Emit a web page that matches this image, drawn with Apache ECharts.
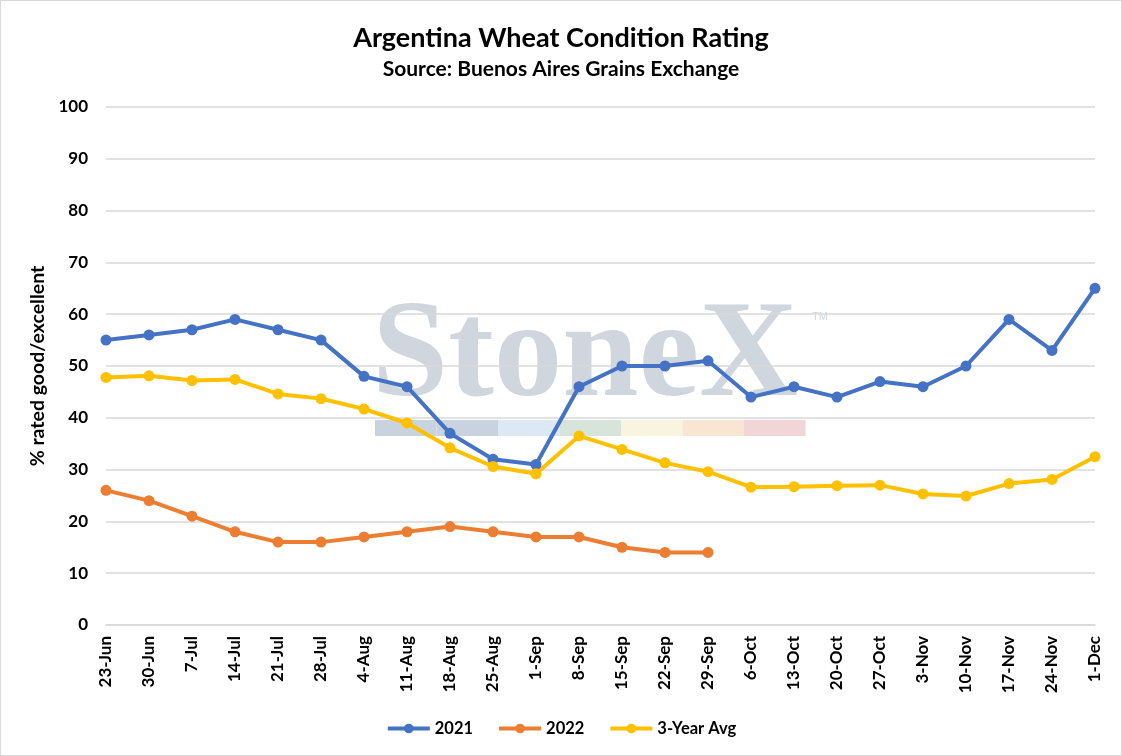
<!DOCTYPE html>
<html>
<head>
<meta charset="utf-8">
<script src="https://cdn.jsdelivr.net/npm/echarts@6/dist/echarts.min.js"></script>
<style>
  html, body { margin: 0; padding: 0; background: #fff; }
  #chart { width: 1120px; height: 754px; border: 1px solid #d9d9d9; }
</style>
</head>
<body>
<div id="chart"></div>
<script>
const weeks = ["23-Jun", "30-Jun", "7-Jul", "14-Jul", "21-Jul", "28-Jul", "4-Aug", "11-Aug",
  "18-Aug", "25-Aug", "1-Sep", "8-Sep", "15-Sep", "22-Sep", "29-Sep", "6-Oct", "13-Oct",
  "20-Oct", "27-Oct", "3-Nov", "10-Nov", "17-Nov", "24-Nov", "1-Dec"];

const y2021 = [55, 56, 57, 59, 57, 55, 48, 46, 37, 32, 31, 46, 50, 50, 51, 44, 46, 44, 47, 46, 50, 59, 53, 65];
const y2022 = [26, 24, 21, 18, 16, 16, 17, 18, 19, 18, 17, 17, 15, 14, 14];
const avg3yr = [47.8, 48.1, 47.2, 47.4, 44.6, 43.7, 41.7, 39.0, 34.2, 30.6, 29.2, 36.5, 33.9, 31.3,
  29.6, 26.6, 26.7, 26.9, 27.0, 25.3, 24.9, 27.3, 28.1, 32.5];

const font = "Lato";
const chart = echarts.init(document.getElementById("chart"));

// watermark strip colours, left to right
const stripColors = ["#c9d3df", "#c9d3df", "#dce8f3", "#d6e4da", "#f8f4df", "#f9e6d2", "#f1d5d7"];

const watermark = [
  {
    type: "text",
    left: 371,
    top: 290,
    z: -10,
    silent: true,
    style: {
      text: "StoneX",
      font: "bold 137px 'Liberation Serif'",
      fill: "#cfd6de"
    }
  },
  {
    type: "text",
    left: 811,
    top: 310,
    z: -10,
    silent: true,
    style: { text: "TM", font: "11px 'Liberation Sans'", fill: "#cfd6de" }
  }
];
stripColors.forEach((c, i) => {
  watermark.push({
    type: "rect",
    z: -10,
    silent: true,
    shape: { x: 374 + i * 61.5, y: 419, width: 61.5, height: 16 },
    style: { fill: c }
  });
});

const lineSeries = (name, data, color) => ({
  name: name,
  type: "line",
  data: data,
  symbol: "circle",
  symbolSize: 11,
  lineStyle: { width: 4, color: color },
  itemStyle: { color: color },
  emphasis: { disabled: true }
});

chart.setOption({
  animation: false,
  textStyle: { fontFamily: font },
  title: {
    text: "Argentina Wheat Condition Rating",
    subtext: "Source: Buenos Aires Grains Exchange",
    left: "center",
    top: 19,
    itemGap: 7,
    textStyle: { fontFamily: font, fontSize: 27, fontWeight: "bold", color: "#000" },
    subtextStyle: { fontFamily: font, fontSize: 21, fontWeight: "bold", color: "#000" }
  },
  graphic: { elements: watermark },
  legend: {
    bottom: 13,
    left: "center",
    itemWidth: 42,
    itemHeight: 12,
    itemGap: 24,
    lineStyle: { width: 4 },
    textStyle: { fontFamily: font, fontSize: 16.5, fontWeight: "bold", color: "#000" },
    data: ["2021", "2022", "3-Year Avg"]
  },
  grid: { left: 105, right: 26, top: 106, bottom: 130 },
  xAxis: {
    type: "category",
    data: weeks,
    boundaryGap: false,
    axisLine: { lineStyle: { color: "#d9d9d9", width: 1.5 } },
    axisTick: { show: false },
    axisLabel: {
      rotate: 90,
      interval: 0,
      margin: 11,
      fontFamily: font,
      fontSize: 17,
      fontWeight: "bold",
      color: "#000"
    }
  },
  yAxis: {
    type: "value",
    min: 0,
    max: 100,
    interval: 10,
    name: "% rated good/excellent",
    nameLocation: "middle",
    nameGap: 54,
    nameTextStyle: { fontFamily: font, fontSize: 19.5, fontWeight: "bold", color: "#000" },
    axisLine: { show: false },
    axisTick: { show: false },
    axisLabel: { margin: 18, fontFamily: font, fontSize: 17, fontWeight: "bold", color: "#000" },
    splitLine: { lineStyle: { color: "#d9d9d9", width: 1.5 } }
  },
  series: [
    lineSeries("2021", y2021, "#4472c4"),
    lineSeries("2022", y2022, "#ed7d31"),
    lineSeries("3-Year Avg", avg3yr, "#ffc000")
  ]
});
</script>
</body>
</html>
